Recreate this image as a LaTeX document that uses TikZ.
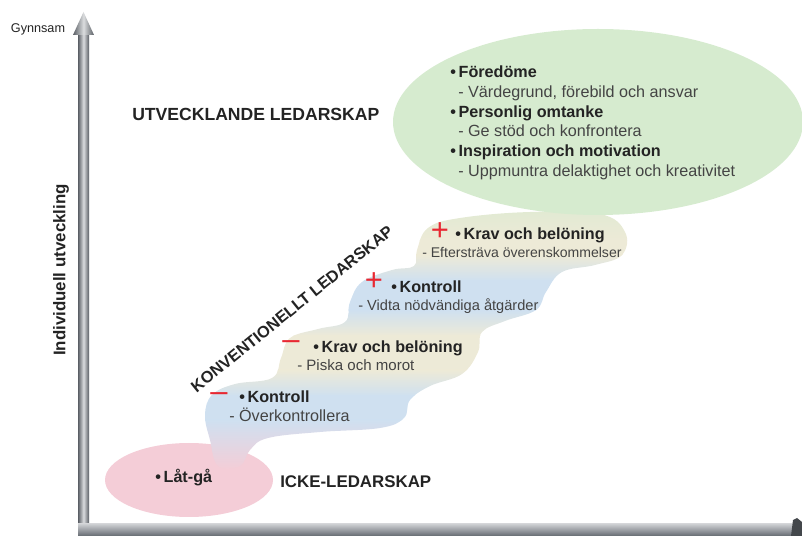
\documentclass[tikz,border=0pt]{standalone}
\usepackage{fontspec}
\setmainfont{Liberation Sans}
\usetikzlibrary{positioning}
\definecolor{gron}{RGB}{214,235,207}
\definecolor{rosa}{RGB}{244,205,215}
\definecolor{bla}{RGB}{207,224,240}
\definecolor{beige}{RGB}{237,234,215}
\definecolor{axel}{RGB}{112,118,126}
\definecolor{mork}{RGB}{35,35,35}
\definecolor{rod}{RGB}{232,40,50}
\tikzset{
  rubrik/.style={
    font=\fontsize{12.5}{14}\selectfont\bfseries, text=mork, inner sep=0pt
  },
  punkt/.style={anchor=base west, inner sep=0pt, font=\fontsize{11.5}{13}\selectfont\bfseries, text=mork},
  rad/.style={anchor=base west, inner sep=0pt, font=\fontsize{#1}{13}\selectfont, text=mork!85},
  rad/.default=11.5,
  tecken/.style={font=\fontsize{22}{22}\selectfont, text=rod, inner sep=0pt},
}

\begin{document}
\begin{tikzpicture}[
    x=0.025cm, y=-0.025cm,
    bubbla/.style={smooth cycle, tension=0.65}
]
\useasboundingbox (0,0) rectangle (802,536);

% bubblor
\fill[rosa] (189,480) ellipse [x radius=84, y radius=37];
\begin{scope}
\clip plot[bubbla] coordinates
  {(417,250) (428,228) (460,218) (530,212) (600,214) (625,232) (622,255) (595,265) (562,272)
   (546,292) (536,310) (505,321) (482,332) (478,352) (462,374) (430,386) (410,400) (404,418)
   (380,428) (320,432) (268,438) (250,450) (240,466) (218,466) (210,440) (205,415) (212,395)
   (235,384) (272,378) (281,358) (290,338) (318,329) (345,322) (350,302) (362,282) (392,270) (414,266)};
\shade[top color=gron!60!beige, bottom color=beige] (0,205) rectangle (802,241);
\fill[beige] (0,240) rectangle (802,256);
\shade[top color=beige, bottom color=bla] (0,255) rectangle (802,281);
\fill[bla] (0,280) rectangle (802,311);
\shade[top color=bla, bottom color=beige] (0,310) rectangle (802,336);
\fill[beige] (0,335) rectangle (802,371);
\shade[top color=beige, bottom color=bla] (0,370) rectangle (802,396);
\fill[bla] (0,395) rectangle (802,421);
\shade[top color=bla, bottom color=rosa] (0,420) rectangle (802,470);
\end{scope}
\fill[gron] (598,122) ellipse [x radius=205, y radius=93];

% axlar
\shade[left color=axel!80!black, right color=axel!80!black, middle color=axel!25] (78,536) rectangle (89,33);
\shade[left color=axel!80!black, right color=axel!80!black, middle color=axel!25] (73,35) -- (83.5,12) -- (94,35) -- cycle;
\shade[top color=axel!35, bottom color=axel!90!black] (78,524) rectangle (802,536);
\fill[axel!60!black] (791,536) -- (793,520) -- (797,518) -- (802,522) -- (802,536) -- cycle;

\node[rad=9, anchor=center, text=mork] (gynnsam) at (38,29) {Gynnsam};
\node[rubrik, font=\fontsize{12}{14}\selectfont\bfseries, rotate=90] (individuell) at (61,270) {Individuell utveckling};

% utvecklande
\node[rubrik, anchor=base west] (utvecklande) at (132,121) {UTVECKLANDE LEDARSKAP};
\node[punkt] (foredome) at (450,78) {•\,Föredöme};
\node[rad] (vardegrund) at (458,98) {- Värdegrund, förebild och ansvar};
\node[punkt] (omtanke) at (450,118) {•\,Personlig omtanke};
\node[rad] (stod) at (458,137) {- Ge stöd och konfrontera};
\node[punkt] (inspiration) at (450,157) {•\,Inspiration och motivation};
\node[rad] (uppmuntra) at (458,177) {- Uppmuntra delaktighet och kreativitet};

% konventionellt
\node[rubrik, font=\fontsize{11.6}{14}\selectfont\bfseries, rotate=39] (konventionellt) at (292,309) {KONVENTIONELLT LEDARSKAP};

\node[tecken] (plusKrav) at (440,232) {+};
\node[punkt] (kravPlus) at (455,240) {•\,Krav och belöning};
\node[rad=10] (eftersträva) at (422,258) {- Eftersträva överenskommelser};

\node[tecken] (plusKontroll) at (374,282) {+};
\node[punkt] (kontrollPlus) at (391,293) {•\,Kontroll};
\node[rad=10.4] (vidta) at (358,311) {- Vidta nödvändiga åtgärder};

\node[tecken] (minusKrav) at (291,345) {–};
\node[punkt] (kravMinus) at (313,353) {•\,Krav och belöning};
\node[rad=10.7] (piska) at (297,371) {- Piska och morot};

\node[tecken] (minusKontroll) at (219,397) {–};
\node[punkt] (kontrollMinus) at (239,403) {•\,Kontroll};
\node[rad] (overkontroll) at (229,422) {- Överkontrollera};

% icke
\node[punkt] (latga) at (155,483) {•\,Låt-gå};
\node[rubrik, font=\fontsize{12}{14}\selectfont\bfseries, anchor=base west] (icke) at (280,488) {ICKE-LEDARSKAP};

\end{tikzpicture}
\end{document}
